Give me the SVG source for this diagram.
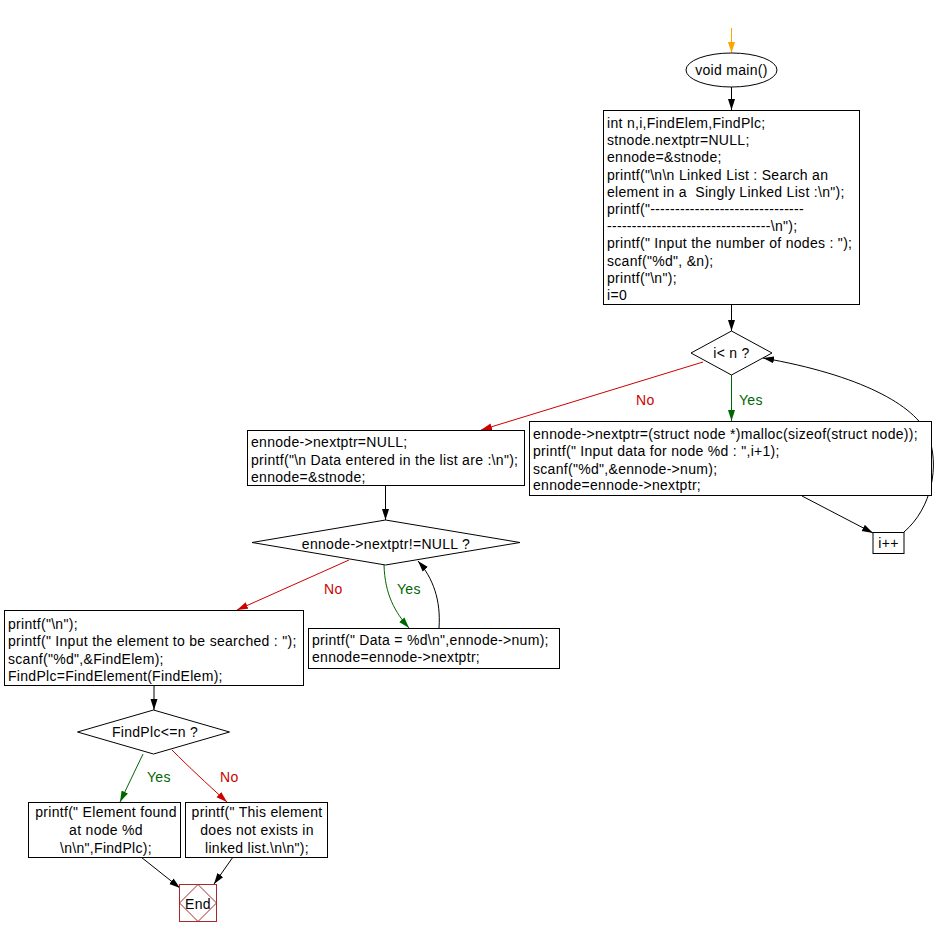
<svg xmlns="http://www.w3.org/2000/svg" width="948" height="937" viewBox="0 0 948 937">
<defs>
<style>
text{font-family:"Liberation Sans",Arial,sans-serif;font-size:14px;fill:#000;letter-spacing:0.3px;white-space:pre}
.box{fill:#fff;stroke:#000;stroke-width:1}
.c{fill:none;stroke:#000;stroke-width:1}
.red{stroke:#cc0000}
.green{stroke:#006600}
.orange{stroke:#ffa500}
.lr{fill:#cc0000}
.lg{fill:#006600}
.mid{text-anchor:middle}
</style>
<marker id="ab" markerUnits="userSpaceOnUse" markerWidth="12" markerHeight="8" refX="11" refY="4" orient="auto"><path d="M0,0.5 L11,4 L0,7.5 z" fill="#000"/></marker>
<marker id="ar" markerUnits="userSpaceOnUse" markerWidth="12" markerHeight="8" refX="11" refY="4" orient="auto"><path d="M0,0.5 L11,4 L0,7.5 z" fill="#cc0000"/></marker>
<marker id="ag" markerUnits="userSpaceOnUse" markerWidth="12" markerHeight="8" refX="11" refY="4" orient="auto"><path d="M0,0.5 L11,4 L0,7.5 z" fill="#006600"/></marker>
<marker id="ao" markerUnits="userSpaceOnUse" markerWidth="12" markerHeight="8" refX="11" refY="4" orient="auto"><path d="M0,0.5 L11,4 L0,7.5 z" fill="#ffa500"/></marker>
</defs>
<rect width="948" height="937" fill="#fff"/>
<g id="connectors">
<line class="c orange" x1="731.5" y1="28" x2="731.5" y2="53" marker-end="url(#ao)"/>
<line class="c" x1="731.5" y1="87" x2="731.5" y2="110" marker-end="url(#ab)"/>
<line class="c" x1="731.5" y1="305" x2="731.5" y2="331" marker-end="url(#ab)"/>
<line class="c red" x1="703" y1="362" x2="481" y2="430" marker-end="url(#ar)"/>
<text class="lr" x="636" y="405">No</text>
<line class="c green" x1="731.5" y1="375" x2="731.5" y2="421" marker-end="url(#ag)"/>
<text class="lg" x="739" y="405">Yes</text>
<line class="c" x1="802" y1="496" x2="873" y2="533" marker-end="url(#ab)"/>
<path class="c" d="M904,532 C932,508 940,465 928,435 C915,405 860,375 763,358" marker-end="url(#ab)"/>
<line class="c" x1="385.5" y1="486" x2="385.5" y2="520" marker-end="url(#ab)"/>
<line class="c red" x1="349" y1="560" x2="237" y2="610" marker-end="url(#ar)"/>
<text class="lr" x="324" y="594">No</text>
<path class="c green" d="M384,565 C385,595 395,612 409,628" marker-end="url(#ag)"/>
<text class="lg" x="397" y="594">Yes</text>
<path class="c" d="M439,628 C441,600 433,578 418,561" marker-end="url(#ab)"/>
<line class="c" x1="154" y1="685" x2="154" y2="710" marker-end="url(#ab)"/>
<line class="c green" x1="143" y1="754" x2="120" y2="802" marker-end="url(#ag)"/>
<text class="lg" x="147" y="782">Yes</text>
<path class="c red" d="M172,750 C190,768 205,782 227,802" marker-end="url(#ar)"/>
<text class="lr" x="220" y="782">No</text>
<line class="c" x1="141" y1="857" x2="180" y2="888" marker-end="url(#ab)"/>
<line class="c" x1="233" y1="857" x2="214" y2="884" marker-end="url(#ab)"/>
</g>
<g id="start">
<ellipse class="box" cx="731.5" cy="70" rx="45.5" ry="17"/>
<text class="mid" x="731.5" y="75">void main()</text>
</g>
<g id="init">
<rect class="box" x="603.5" y="110.5" width="256" height="194"/>
<text x="607" y="128">int n,i,FindElem,FindPlc;</text>
<text x="607" y="145.2">stnode.nextptr=NULL;</text>
<text x="607" y="162.4">ennode=&amp;stnode;</text>
<text x="607" y="179.6">printf("\n\n Linked List : Search an</text>
<text x="607" y="196.8">element in a  Singly Linked List :\n");</text>
<text x="607" y="214">printf("-------------------------------</text>
<text x="607" y="231.2">---------------------------------\n");</text>
<text x="607" y="248.4">printf(" Input the number of nodes : ");</text>
<text x="607" y="265.6">scanf("%d", &amp;n);</text>
<text x="607" y="282.8">printf("\n");</text>
<text x="607" y="300">i=0</text>
</g>
<g id="cond1">
<polygon class="box" points="691,353 731.5,331 772,353 731.5,375"/>
<text class="mid" x="731.5" y="358">i&lt; n ?</text>
</g>
<g id="create">
<rect class="box" x="529.5" y="421.5" width="402" height="74"/>
<text x="533" y="439">ennode-&gt;nextptr=(struct node *)malloc(sizeof(struct node));</text>
<text x="533" y="456">printf(" Input data for node %d : ",i+1);</text>
<text x="533" y="473.5">scanf("%d",&amp;ennode-&gt;num);</text>
<text x="533" y="490">ennode=ennode-&gt;nextptr;</text>
</g>
<g id="inc">
<rect class="box" x="873" y="532.5" width="31" height="21"/>
<text class="mid" x="888.5" y="548">i++</text>
</g>
<g id="reset">
<rect class="box" x="247.5" y="430.5" width="277" height="55"/>
<text x="251" y="447">ennode-&gt;nextptr=NULL;</text>
<text x="251" y="464.5">printf("\n Data entered in the list are :\n");</text>
<text x="251" y="482">ennode=&amp;stnode;</text>
</g>
<g id="cond2">
<polygon class="box" points="252,542.5 385.5,520 520,542.5 385.5,565"/>
<text class="mid" x="386" y="549">ennode-&gt;nextptr!=NULL ?</text>
</g>
<g id="print">
<rect class="box" x="308.5" y="628.5" width="251" height="40"/>
<text x="312" y="644.5">printf(" Data = %d\n",ennode-&gt;num);</text>
<text x="312" y="662">ennode=ennode-&gt;nextptr;</text>
</g>
<g id="search">
<rect class="box" x="4.5" y="610.5" width="299" height="75"/>
<text x="8" y="628.5">printf("\n");</text>
<text x="8" y="646">printf(" Input the element to be searched : ");</text>
<text x="8" y="663.5">scanf("%d",&amp;FindElem);</text>
<text x="8" y="681">FindPlc=FindElement(FindElem);</text>
</g>
<g id="cond3">
<polygon class="box" points="77.5,732 153.5,710 229.5,732 153.5,754"/>
<text class="mid" x="155" y="737">FindPlc&lt;=n ?</text>
</g>
<g id="found">
<rect class="box" x="28.5" y="802.5" width="152" height="55"/>
<text class="mid" x="106" y="817">printf(" Element found</text>
<text class="mid" x="106" y="834.5">at node %d</text>
<text class="mid" x="106" y="852.5">\n\n",FindPlc);</text>
</g>
<g id="notfound">
<rect class="box" x="185.5" y="802.5" width="142" height="55"/>
<text class="mid" x="257" y="817">printf(" This element</text>
<text class="mid" x="257" y="834.5">does not exists in</text>
<text class="mid" x="257" y="852.5">linked list.\n\n");</text>
</g>
<g id="end">
<rect x="179.5" y="884.5" width="37" height="37" fill="#fff" stroke="#a52a2a"/>
<polygon points="198,884.5 216.5,903 198,921.5 179.5,903" fill="none" stroke="#a52a2a"/>
<text class="mid" x="198" y="909">End</text>
</g>
</svg>
